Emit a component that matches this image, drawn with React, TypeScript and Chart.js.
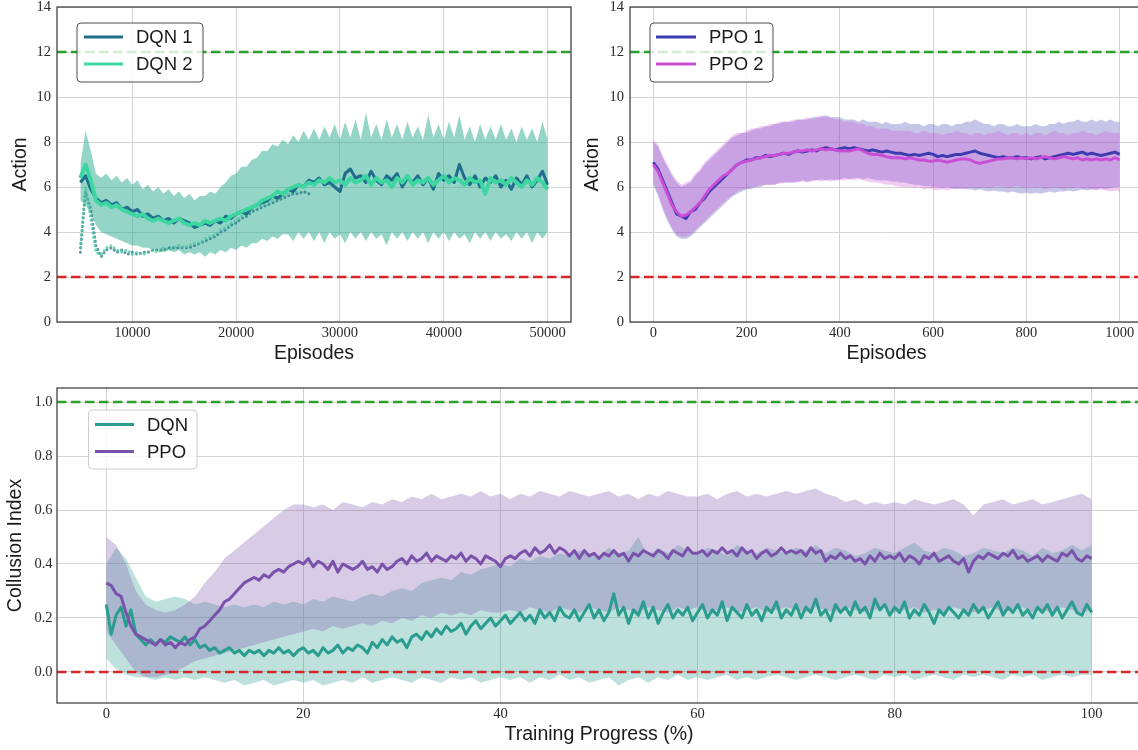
import React, { useEffect, useRef } from "react";
import { Chart, registerables } from "chart.js";

Chart.register(...registerables);

// ---------------- DATA ----------------
// Top-left: DQN actions vs episodes
const DQN_EPISODES = [5000, 5500, 6000, 6500, 7000, 7500, 8000, 8500, 9000, 9500,
  10000, 10500, 11000, 11500, 12000, 12500, 13000, 13500, 14000, 14500,
  15000, 15500, 16000, 16500, 17000, 17500, 18000, 18500, 19000, 19500,
  20000, 20500, 21000, 21500, 22000, 22500, 23000, 23500, 24000, 24500,
  25000, 25500, 26000, 26500, 27000, 27500, 28000, 28500, 29000, 29500,
  30000, 30500, 31000, 31500, 32000, 32500, 33000, 33500, 34000, 34500,
  35000, 35500, 36000, 36500, 37000, 37500, 38000, 38500, 39000, 39500,
  40000, 40500, 41000, 41500, 42000, 42500, 43000, 43500, 44000, 44500,
  45000, 45500, 46000, 46500, 47000, 47500, 48000, 48500, 49000, 49500,
  50000];
const DQN1_ACTION = [6.2, 6.5, 5.9, 5.5, 5.3, 5.4, 5.2, 5.3, 5.0, 5.1,
  4.9, 5.0, 4.7, 4.8, 4.6, 4.7, 4.5, 4.6, 4.4, 4.6,
  4.5, 4.4, 4.2, 4.3, 4.4, 4.3, 4.5, 4.4, 4.7, 4.6,
  4.8, 4.9, 4.8, 5.1, 5.2, 5.3, 5.4, 5.6, 5.5, 5.7,
  5.9, 5.8, 6.1, 6.0, 6.3, 6.2, 6.4, 6.1, 6.2, 6.0,
  5.8, 6.6, 6.8, 6.4, 6.5, 6.2, 6.7, 6.3, 6.1, 6.5,
  6.3, 6.6, 6.0, 6.4, 6.2, 6.5, 6.1, 6.4, 5.9, 6.6,
  6.3, 6.5, 6.2, 7.0, 6.4, 6.1, 6.5, 6.0, 6.4, 6.2,
  6.5, 6.0, 6.3, 5.9, 6.4, 6.1, 6.5, 6.0, 6.3, 6.7,
  6.1];
const DQN2_ACTION = [6.4, 7.0, 6.3, 5.4, 5.2, 5.3, 5.1, 5.2, 5.0, 4.9,
  4.8, 4.7, 4.8, 4.6, 4.5, 4.6, 4.5, 4.4, 4.5, 4.6,
  4.4, 4.3, 4.4, 4.3, 4.5, 4.4, 4.5, 4.6, 4.5, 4.7,
  4.8, 4.9, 5.0, 5.1, 5.2, 5.4, 5.5, 5.6, 5.8, 5.7,
  5.9, 6.0, 6.1, 6.0, 6.2, 6.1, 6.3, 6.2, 6.4, 6.2,
  6.3, 6.1, 6.4, 6.2, 6.3, 6.5, 6.1, 6.4, 6.2, 6.3,
  6.0, 6.4, 6.2, 6.5, 6.1, 6.3, 6.2, 6.4, 6.1, 6.3,
  6.5, 6.2, 6.4, 6.3, 6.1, 6.4, 6.2, 6.3, 5.7, 6.4,
  6.2, 6.3, 6.1, 6.4, 6.2, 6.0, 6.3, 6.1, 6.4, 6.2,
  5.9];
const DQN_BAND_UPPER = [7.0, 8.5, 7.6, 6.6, 6.4, 6.6, 6.3, 6.5, 6.2, 6.4,
  6.1, 6.3, 5.9, 6.1, 5.8, 6.0, 5.7, 5.9, 5.6, 5.8,
  5.5, 5.7, 5.4, 5.6, 5.6, 5.8, 5.7, 6.0, 6.2, 6.5,
  6.6, 6.9, 6.9, 7.2, 7.3, 7.6, 7.6, 7.9, 7.8, 8.1,
  7.9, 8.3, 8.0, 8.5, 8.1, 8.6, 8.1, 8.7, 8.2, 8.8,
  8.1, 8.9, 8.2, 9.0, 8.1, 9.3, 8.2, 8.8, 8.1, 9.0,
  8.2, 8.8, 8.1, 8.9, 8.2, 8.7, 8.1, 9.2, 8.2, 8.8,
  8.1, 8.9, 8.2, 9.2, 8.1, 8.7, 8.0, 8.8, 8.1, 8.7,
  8.1, 8.8, 8.1, 8.6, 8.0, 8.7, 8.1, 8.6, 8.0, 8.9,
  8.1];
const DQN_BAND_LOWER = [5.4, 5.2, 4.8, 4.3, 4.0, 3.9, 3.8, 3.7, 3.6, 3.5,
  3.4, 3.4, 3.3, 3.3, 3.2, 3.2, 3.1, 3.2, 3.1, 3.2,
  3.0, 3.1, 3.0, 3.1, 2.9, 3.1, 3.0, 3.2, 3.1, 3.3,
  3.2, 3.4, 3.3, 3.5, 3.5, 3.7, 3.6, 3.8, 3.7, 3.9,
  3.9, 3.6, 4.0, 3.7, 4.0, 3.6, 4.0, 3.5, 4.0, 3.7,
  3.9, 3.5, 4.0, 3.7, 4.0, 3.6, 4.0, 3.7, 3.9, 3.4,
  4.0, 3.7, 4.0, 3.6, 4.0, 3.7, 4.0, 3.5, 4.0, 3.7,
  4.0, 3.6, 4.0, 3.7, 3.9, 3.5, 4.0, 3.7, 4.0, 3.6,
  4.0, 3.7, 3.9, 3.6, 4.0, 3.7, 4.0, 3.5, 4.0, 3.7,
  4.0];
const DQN1_DOTTED = [3.1, 5.8, 5.0, 3.4, 2.9, 3.2, 3.3, 3.1, 3.2, 3.0,
  3.1, 3.0, 3.1, 3.1, 3.2, 3.2, 3.2, 3.3, 3.3, 3.3,
  3.3, 3.3, 3.4, 3.5, 3.6, 3.7, 3.8, 4.0, 4.1, 4.3,
  4.4, 4.6, 4.7, 4.9, 5.0, 5.1, 5.2, 5.3, 5.4, 5.5,
  5.6, 5.7, 5.7, 5.8, 5.7];
const DQN2_DOTTED = [3.3, 6.0, 4.6, 3.1, 3.0, 3.3, 3.4, 3.2, 3.1, 3.2,
  3.0, 3.1, 3.0, 3.1, 3.2, 3.1, 3.3, 3.2, 3.3, 3.4,
  3.3, 3.4, 3.5, 3.5, 3.7, 3.8, 3.9, 4.1, 4.2, 4.4,
  4.5, 4.7, 4.8, 5.0, 5.1, 5.2, 5.3, 5.4, 5.5, 5.6,
  5.7, 5.8, 5.8];
const DQN_X_TICKS = [10000, 20000, 30000, 40000, 50000];

// Top-right: PPO actions vs episodes
const PPO_EPISODES = [0, 10, 20, 30, 40, 50, 60, 70, 80, 90,
  100, 110, 120, 130, 140, 150, 160, 170, 180, 190,
  200, 210, 220, 230, 240, 250, 260, 270, 280, 290,
  300, 310, 320, 330, 340, 350, 360, 370, 380, 390,
  400, 410, 420, 430, 440, 450, 460, 470, 480, 490,
  500, 510, 520, 530, 540, 550, 560, 570, 580, 590,
  600, 610, 620, 630, 640, 650, 660, 670, 680, 690,
  700, 710, 720, 730, 740, 750, 760, 770, 780, 790,
  800, 810, 820, 830, 840, 850, 860, 870, 880, 890,
  900, 910, 920, 930, 940, 950, 960, 970, 980, 990,
  1000];
const PPO1_ACTION = [7.1, 6.8, 6.3, 5.8, 5.3, 4.8, 4.7, 4.6, 4.9, 5.0,
  5.3, 5.5, 5.8, 6.0, 6.2, 6.4, 6.6, 6.8, 7.0, 7.1,
  7.2, 7.2, 7.3, 7.3, 7.4, 7.35, 7.4, 7.45, 7.5, 7.45,
  7.55, 7.6, 7.55, 7.6, 7.65, 7.6, 7.7, 7.75, 7.7, 7.65,
  7.7, 7.75, 7.7, 7.75, 7.7, 7.65, 7.6, 7.65, 7.6, 7.55,
  7.6, 7.55, 7.5, 7.5, 7.45, 7.4, 7.45, 7.4, 7.45, 7.5,
  7.45, 7.35, 7.4, 7.35, 7.4, 7.45, 7.45, 7.5, 7.55, 7.6,
  7.5, 7.45, 7.4, 7.35, 7.3, 7.35, 7.3, 7.3, 7.35, 7.3,
  7.3, 7.25, 7.3, 7.35, 7.25, 7.3, 7.35, 7.4, 7.45, 7.5,
  7.45, 7.5, 7.55, 7.45, 7.5, 7.45, 7.4, 7.45, 7.5, 7.55,
  7.45];
const PPO2_ACTION = [7.0, 6.7, 6.2, 5.7, 5.2, 4.9, 4.7, 4.75, 4.9, 5.1,
  5.3, 5.6, 5.9, 6.1, 6.3, 6.5, 6.6, 6.8, 7.0, 7.1,
  7.15, 7.2, 7.25, 7.3, 7.35, 7.4, 7.4, 7.45, 7.5, 7.5,
  7.55, 7.6, 7.6, 7.65, 7.6, 7.65, 7.7, 7.65, 7.7, 7.65,
  7.6, 7.6, 7.6, 7.65, 7.7, 7.6, 7.5, 7.45, 7.45, 7.4,
  7.35, 7.3, 7.3, 7.3, 7.25, 7.3, 7.25, 7.2, 7.2, 7.15,
  7.15, 7.2, 7.15, 7.1, 7.15, 7.2, 7.25, 7.25, 7.2, 7.1,
  7.05, 7.1, 7.15, 7.2, 7.25, 7.25, 7.3, 7.3, 7.25, 7.3,
  7.25, 7.3, 7.25, 7.3, 7.35, 7.3, 7.25, 7.3, 7.35, 7.3,
  7.25, 7.3, 7.2, 7.25, 7.2, 7.25, 7.2, 7.25, 7.2, 7.3,
  7.2];
const PPO1_BAND_UPPER = [8.0, 7.8, 7.3, 6.9, 6.5, 6.2, 6.0, 6.1, 6.2, 6.5,
  6.7, 7.0, 7.2, 7.4, 7.6, 7.8, 8.0, 8.2, 8.3, 8.4,
  8.4, 8.5, 8.6, 8.6, 8.7, 8.7, 8.8, 8.8, 8.9, 8.9,
  8.9, 9.0, 9.0, 9.0, 9.1, 9.1, 9.1, 9.2, 9.1, 9.1,
  9.1, 9.0, 9.0, 9.0, 8.9, 9.0, 8.9, 8.9, 8.9, 8.8,
  8.9, 8.8, 8.8, 8.8, 8.9, 8.8, 8.8, 8.8, 8.7, 8.8,
  8.8, 8.7, 8.8, 8.8, 8.7, 8.8, 8.8, 8.9, 8.9, 9.0,
  8.9, 8.8, 8.8, 8.7, 8.8, 8.8, 8.7, 8.7, 8.8, 8.7,
  8.7, 8.7, 8.8, 8.7, 8.7, 8.8, 8.8, 8.9, 8.8, 8.9,
  8.9, 9.0, 8.9, 8.9, 9.0, 8.9, 9.0, 8.9, 9.0, 8.9,
  8.9];
const PPO1_BAND_LOWER = [6.1, 5.6, 5.0, 4.5, 4.1, 3.8, 3.7, 3.7, 3.8, 4.0,
  4.2, 4.4, 4.6, 4.8, 5.0, 5.2, 5.4, 5.6, 5.7, 5.8,
  5.9, 5.9, 6.0, 6.0, 6.1, 6.1, 6.1, 6.2, 6.2, 6.2,
  6.2, 6.25, 6.3, 6.25, 6.3, 6.3, 6.35, 6.3, 6.35, 6.3,
  6.35, 6.4, 6.35, 6.4, 6.4, 6.35, 6.4, 6.35, 6.3, 6.3,
  6.3, 6.25, 6.25, 6.2, 6.2, 6.15, 6.1, 6.1, 6.05, 6.05,
  6.0, 6.0, 5.95, 6.0, 5.95, 5.9, 5.95, 5.9, 5.9, 5.85,
  5.9, 5.85, 5.8, 5.85, 5.8, 5.8, 5.75, 5.8, 5.75, 5.7,
  5.75, 5.7, 5.75, 5.7, 5.75, 5.8, 5.75, 5.8, 5.8, 5.85,
  5.8, 5.85, 5.9, 5.85, 5.9, 5.9, 5.95, 5.9, 5.95, 6.0,
  6.0];
const PPO2_BAND_UPPER = [8.1, 7.9, 7.4, 7.0, 6.6, 6.3, 6.1, 6.2, 6.3, 6.6,
  6.8, 7.1, 7.3, 7.5, 7.7, 7.9, 8.1, 8.3, 8.4, 8.4,
  8.5, 8.6, 8.6, 8.7, 8.7, 8.8, 8.8, 8.9, 8.9, 8.9,
  9.0, 9.0, 9.0, 9.1, 9.0, 9.1, 9.2, 9.1, 9.1, 9.0,
  9.0, 8.9, 8.9, 8.9, 8.8, 8.8, 8.7, 8.7, 8.6, 8.6,
  8.6, 8.5, 8.5, 8.5, 8.5, 8.5, 8.4, 8.4, 8.5, 8.4,
  8.4, 8.4, 8.3, 8.4, 8.4, 8.5, 8.4, 8.4, 8.3, 8.4,
  8.4, 8.3, 8.4, 8.4, 8.5, 8.4, 8.3, 8.4, 8.4, 8.3,
  8.4, 8.3, 8.4, 8.4, 8.3, 8.4, 8.5, 8.4, 8.4, 8.3,
  8.4, 8.4, 8.5, 8.4, 8.4, 8.3, 8.4, 8.5, 8.4, 8.4,
  8.4];
const PPO2_BAND_LOWER = [6.2, 5.7, 5.1, 4.6, 4.2, 3.9, 3.8, 3.8, 3.9, 4.1,
  4.3, 4.5, 4.7, 4.9, 5.1, 5.3, 5.5, 5.6, 5.8, 5.9,
  5.9, 6.0, 6.0, 6.1, 6.1, 6.1, 6.1, 6.15, 6.2, 6.2,
  6.2, 6.2, 6.25, 6.2, 6.25, 6.3, 6.25, 6.3, 6.25, 6.3,
  6.3, 6.3, 6.35, 6.3, 6.35, 6.3, 6.25, 6.2, 6.2, 6.15,
  6.1, 6.1, 6.05, 6.0, 6.0, 6.0, 5.95, 6.0, 5.9, 5.95,
  5.9, 5.85, 5.9, 5.85, 5.9, 5.95, 5.9, 5.95, 6.0, 5.95,
  5.95, 6.0, 5.95, 6.0, 6.05, 6.0, 5.95, 6.0, 6.05, 6.0,
  5.95, 6.0, 5.95, 6.0, 5.9, 5.95, 6.0, 5.95, 5.9, 5.95,
  5.95, 6.0, 5.9, 5.95, 5.9, 5.85, 5.9, 5.85, 5.8, 5.85,
  5.8];
const PPO_X_TICKS = [0, 200, 400, 600, 800, 1000];
const ACTION_Y_TICKS = [0, 2, 4, 6, 8, 10, 12, 14];
const ACTION_REF_LINES = [12, 2]; // monopoly, Nash

// Bottom: collusion index vs training progress
const PROGRESS_FINE = [0, 0.5, 1, 1.5, 2, 2.5, 3, 3.5, 4, 4.5,
  5, 5.5, 6, 6.5, 7, 7.5, 8, 8.5, 9, 9.5,
  10, 10.5, 11, 11.5, 12, 12.5, 13, 13.5, 14, 14.5,
  15, 15.5, 16, 16.5, 17, 17.5, 18, 18.5, 19, 19.5,
  20, 20.5, 21, 21.5, 22, 22.5, 23, 23.5, 24, 24.5,
  25, 25.5, 26, 26.5, 27, 27.5, 28, 28.5, 29, 29.5,
  30, 30.5, 31, 31.5, 32, 32.5, 33, 33.5, 34, 34.5,
  35, 35.5, 36, 36.5, 37, 37.5, 38, 38.5, 39, 39.5,
  40, 40.5, 41, 41.5, 42, 42.5, 43, 43.5, 44, 44.5,
  45, 45.5, 46, 46.5, 47, 47.5, 48, 48.5, 49, 49.5,
  50, 50.5, 51, 51.5, 52, 52.5, 53, 53.5, 54, 54.5,
  55, 55.5, 56, 56.5, 57, 57.5, 58, 58.5, 59, 59.5,
  60, 60.5, 61, 61.5, 62, 62.5, 63, 63.5, 64, 64.5,
  65, 65.5, 66, 66.5, 67, 67.5, 68, 68.5, 69, 69.5,
  70, 70.5, 71, 71.5, 72, 72.5, 73, 73.5, 74, 74.5,
  75, 75.5, 76, 76.5, 77, 77.5, 78, 78.5, 79, 79.5,
  80, 80.5, 81, 81.5, 82, 82.5, 83, 83.5, 84, 84.5,
  85, 85.5, 86, 86.5, 87, 87.5, 88, 88.5, 89, 89.5,
  90, 90.5, 91, 91.5, 92, 92.5, 93, 93.5, 94, 94.5,
  95, 95.5, 96, 96.5, 97, 97.5, 98, 98.5, 99, 99.5,
  100];
const DQN_CI = [0.25, 0.14, 0.21, 0.24, 0.17, 0.23, 0.14, 0.12, 0.10, 0.12,
  0.10, 0.12, 0.11, 0.13, 0.12, 0.11, 0.13, 0.10, 0.12, 0.09,
  0.10, 0.08, 0.09, 0.07, 0.08, 0.09, 0.07, 0.08, 0.06, 0.08,
  0.07, 0.08, 0.06, 0.08, 0.07, 0.09, 0.07, 0.08, 0.06, 0.08,
  0.09, 0.07, 0.08, 0.06, 0.09, 0.07, 0.08, 0.10, 0.07, 0.09,
  0.08, 0.10, 0.09, 0.07, 0.11, 0.09, 0.12, 0.10, 0.13, 0.11,
  0.12, 0.09, 0.13, 0.14, 0.12, 0.15, 0.13, 0.16, 0.14, 0.17,
  0.15, 0.16, 0.18, 0.14, 0.17, 0.19, 0.16, 0.18, 0.20, 0.17,
  0.19, 0.21, 0.18, 0.20, 0.22, 0.19, 0.21, 0.18, 0.23, 0.20,
  0.22, 0.19, 0.24, 0.21, 0.20, 0.23, 0.19, 0.22, 0.25, 0.20,
  0.23, 0.19, 0.22, 0.29, 0.21, 0.24, 0.18, 0.23, 0.21, 0.26,
  0.20, 0.24, 0.18, 0.22, 0.25, 0.20, 0.23, 0.21, 0.24, 0.19,
  0.22, 0.25, 0.20, 0.23, 0.21, 0.26, 0.19, 0.24, 0.22, 0.20,
  0.25, 0.21, 0.23, 0.19, 0.24, 0.22, 0.26, 0.20, 0.23, 0.21,
  0.25, 0.20, 0.24, 0.22, 0.27, 0.21, 0.23, 0.19, 0.25, 0.22,
  0.24, 0.21, 0.26, 0.22, 0.24, 0.20, 0.27, 0.23, 0.25, 0.21,
  0.24, 0.22, 0.26, 0.20, 0.23, 0.21, 0.25, 0.22, 0.18, 0.23,
  0.21, 0.24, 0.22, 0.20, 0.23, 0.21, 0.25, 0.22, 0.24, 0.20,
  0.23, 0.26, 0.21, 0.24, 0.22, 0.25, 0.21, 0.23, 0.20, 0.24,
  0.22, 0.25, 0.21, 0.24, 0.20, 0.23, 0.26, 0.22, 0.21, 0.25,
  0.22];
const PPO_CI = [0.33, 0.32, 0.29, 0.28, 0.22, 0.17, 0.14, 0.13, 0.12, 0.11,
  0.10, 0.12, 0.10, 0.11, 0.09, 0.11, 0.10, 0.12, 0.13, 0.16,
  0.17, 0.19, 0.21, 0.23, 0.26, 0.27, 0.29, 0.31, 0.33, 0.34,
  0.35, 0.34, 0.36, 0.35, 0.37, 0.38, 0.37, 0.39, 0.40, 0.41,
  0.40, 0.42, 0.39, 0.41, 0.40, 0.38, 0.41, 0.37, 0.40, 0.39,
  0.38, 0.39, 0.41, 0.38, 0.39, 0.37, 0.40, 0.38, 0.39, 0.41,
  0.42, 0.40, 0.43, 0.41, 0.42, 0.44, 0.41, 0.43, 0.42, 0.41,
  0.43, 0.42, 0.44, 0.41, 0.43, 0.42, 0.40, 0.43, 0.42, 0.41,
  0.39, 0.42, 0.43, 0.42, 0.44, 0.45, 0.43, 0.46, 0.44, 0.45,
  0.47, 0.44, 0.46, 0.45, 0.43, 0.45, 0.42, 0.45, 0.43, 0.44,
  0.42, 0.44, 0.43, 0.45, 0.43, 0.44, 0.41, 0.44, 0.43, 0.45,
  0.44, 0.43, 0.45, 0.44, 0.42, 0.45, 0.44, 0.43, 0.46, 0.44,
  0.44, 0.45, 0.43, 0.45, 0.44, 0.46, 0.44, 0.45, 0.43, 0.46,
  0.44, 0.45, 0.42, 0.44, 0.45, 0.43, 0.44, 0.46, 0.44, 0.45,
  0.44, 0.45, 0.43, 0.46, 0.44, 0.45, 0.41, 0.43, 0.42, 0.44,
  0.42, 0.43, 0.41, 0.42, 0.40, 0.43, 0.41, 0.44, 0.42, 0.43,
  0.42, 0.44, 0.41, 0.43, 0.42, 0.40, 0.43, 0.42, 0.44, 0.41,
  0.42, 0.43, 0.41, 0.40, 0.42, 0.37, 0.41, 0.43, 0.42, 0.44,
  0.43, 0.42, 0.44, 0.43, 0.45, 0.42, 0.43, 0.41, 0.42, 0.43,
  0.41, 0.43, 0.42, 0.41, 0.44, 0.43, 0.45, 0.42, 0.41, 0.43,
  0.42];
const PROGRESS = [0, 1, 2, 3, 4, 5, 6, 7, 8, 9,
  10, 11, 12, 13, 14, 15, 16, 17, 18, 19,
  20, 21, 22, 23, 24, 25, 26, 27, 28, 29,
  30, 31, 32, 33, 34, 35, 36, 37, 38, 39,
  40, 41, 42, 43, 44, 45, 46, 47, 48, 49,
  50, 51, 52, 53, 54, 55, 56, 57, 58, 59,
  60, 61, 62, 63, 64, 65, 66, 67, 68, 69,
  70, 71, 72, 73, 74, 75, 76, 77, 78, 79,
  80, 81, 82, 83, 84, 85, 86, 87, 88, 89,
  90, 91, 92, 93, 94, 95, 96, 97, 98, 99,
  100];
const DQN_CI_UPPER = [0.40, 0.46, 0.42, 0.35, 0.28, 0.26, 0.27, 0.28, 0.27, 0.25,
  0.26, 0.25, 0.24, 0.25, 0.24, 0.25, 0.24, 0.26, 0.25, 0.26,
  0.25, 0.27, 0.26, 0.28, 0.27, 0.26, 0.28, 0.29, 0.28, 0.30,
  0.31, 0.30, 0.33, 0.34, 0.35, 0.34, 0.37, 0.36, 0.38, 0.39,
  0.40, 0.39, 0.42, 0.41, 0.43, 0.42, 0.44, 0.43, 0.45, 0.44,
  0.43, 0.46, 0.44, 0.45, 0.50, 0.43, 0.46, 0.44, 0.47, 0.45,
  0.44, 0.46, 0.45, 0.43, 0.47, 0.45, 0.44, 0.46, 0.45, 0.44,
  0.46, 0.45, 0.47, 0.44, 0.46, 0.45, 0.43, 0.44, 0.46, 0.45,
  0.44, 0.46, 0.48, 0.45, 0.44, 0.46, 0.45, 0.43, 0.44, 0.46,
  0.45, 0.44, 0.46, 0.45, 0.43, 0.46, 0.44, 0.45, 0.47, 0.45,
  0.47];
const DQN_CI_LOWER = [0.05, 0.01, -0.01, -0.02, -0.02, -0.03, -0.02, -0.03, -0.02, -0.03,
  -0.02, -0.03, -0.04, -0.03, -0.05, -0.04, -0.03, -0.05, -0.04, -0.03,
  -0.04, -0.03, -0.05, -0.04, -0.03, -0.04, -0.02, -0.04, -0.03, -0.02,
  -0.03, -0.04, -0.02, -0.03, -0.04, -0.02, -0.03, -0.02, -0.04, -0.03,
  -0.02, -0.03, -0.02, -0.04, -0.02, -0.03, -0.01, -0.03, -0.02, -0.04,
  -0.03, -0.02, -0.05, -0.03, -0.02, -0.04, -0.02, -0.03, -0.01, -0.03,
  -0.02, -0.03, -0.02, -0.01, -0.03, -0.02, -0.03, -0.02, -0.01, -0.02,
  -0.03, -0.02, -0.01, -0.02, -0.03, -0.02, -0.01, -0.02, -0.03, -0.01,
  -0.02, -0.01, -0.03, -0.02, -0.01, -0.02, -0.03, -0.01, -0.02, -0.01,
  -0.02, -0.03, -0.01, -0.02, -0.01, -0.03, -0.02, -0.01, -0.02, -0.01,
  -0.01];
const PPO_CI_UPPER = [0.50, 0.47, 0.40, 0.30, 0.25, 0.23, 0.22, 0.23, 0.25, 0.28,
  0.33, 0.37, 0.42, 0.45, 0.48, 0.51, 0.54, 0.57, 0.60, 0.62,
  0.62, 0.61, 0.62, 0.60, 0.63, 0.62, 0.61, 0.63, 0.62, 0.64,
  0.63, 0.65, 0.64, 0.66, 0.64, 0.65, 0.66, 0.65, 0.67, 0.65,
  0.66, 0.64, 0.66, 0.65, 0.67, 0.66, 0.65, 0.67, 0.66, 0.65,
  0.66, 0.67, 0.65, 0.66, 0.64, 0.66, 0.65, 0.67, 0.66, 0.65,
  0.65, 0.66, 0.64, 0.66, 0.67, 0.65, 0.66, 0.65, 0.66, 0.67,
  0.66, 0.67, 0.68, 0.66, 0.65, 0.63, 0.64, 0.62, 0.63, 0.62,
  0.63, 0.62, 0.64, 0.63, 0.62, 0.63, 0.64, 0.62, 0.58, 0.62,
  0.63, 0.64, 0.62, 0.63, 0.64, 0.62, 0.63, 0.64, 0.65, 0.66,
  0.64];
const PPO_CI_LOWER = [0.15, 0.10, 0.05, 0.00, -0.02, -0.02, -0.01, 0.00, 0.02, 0.04,
  0.05, 0.06, 0.07, 0.08, 0.09, 0.10, 0.11, 0.12, 0.13, 0.14,
  0.15, 0.16, 0.15, 0.17, 0.16, 0.17, 0.18, 0.17, 0.19, 0.18,
  0.20, 0.19, 0.21, 0.20, 0.22, 0.21, 0.22, 0.21, 0.23, 0.22,
  0.22, 0.23, 0.22, 0.24, 0.23, 0.22, 0.24, 0.23, 0.22, 0.24,
  0.23, 0.22, 0.24, 0.23, 0.22, 0.24, 0.23, 0.22, 0.24, 0.23,
  0.24, 0.22, 0.23, 0.24, 0.22, 0.23, 0.24, 0.22, 0.23, 0.24,
  0.23, 0.22, 0.24, 0.23, 0.22, 0.24, 0.23, 0.22, 0.23, 0.24,
  0.22, 0.23, 0.24, 0.22, 0.23, 0.22, 0.24, 0.23, 0.22, 0.23,
  0.24, 0.22, 0.23, 0.24, 0.22, 0.23, 0.22, 0.24, 0.23, 0.22,
  0.23];
const PROGRESS_X_TICKS = [0, 20, 40, 60, 80, 100];
const CI_Y_TICKS = [0.0, 0.2, 0.4, 0.6, 0.8, 1.0];
const CI_REF_LINES = [1.0, 0.0];

// ---------------- STYLE ----------------
const GREEN = "#2ca02c";
const RED = "#d62728";
const GRID = "#d4d4d4";
const SPINE = "#444444";
const TICK_COLOR = "#2a2a2a";
const TITLE_COLOR = "#1a1a1a";
const TICK_FONT = { family: "'Liberation Serif', 'Times New Roman', serif", size: 14.5 };
const TITLE_FONT = { family: "'Liberation Sans', Arial, sans-serif", size: 19.5 };
const LEGEND_FONT = "18.5px 'Liberation Sans', Arial, sans-serif";

const C_DQN1 = "#1f6e8c";
const C_DQN2 = "#3dd6a0";
const C_PPO1 = "#3c3cae";
const C_PPO2 = "#c94ed5";
const C_DQN = "#2a9d8f";
const C_PPO = "#7b52ab";

// ---------------- PLUGINS ----------------
const refLinesPlugin = {
  id: "refLines",
  afterDatasetsDraw(chart: any, _a: any, opts: any) {
    if (!opts || !opts.lines) return;
    const { ctx, chartArea: ca, scales } = chart;
    ctx.save();
    ctx.beginPath();
    ctx.rect(ca.left, ca.top, ca.right - ca.left, ca.bottom - ca.top);
    ctx.clip();
    for (const l of opts.lines) {
      const y = scales.y.getPixelForValue(l.value);
      ctx.strokeStyle = l.color;
      ctx.lineWidth = 2.6;
      ctx.setLineDash([9.5, 4.5]);
      ctx.beginPath();
      ctx.moveTo(ca.left, y);
      ctx.lineTo(ca.right, y);
      ctx.stroke();
    }
    ctx.restore();
  },
};

const framePlugin = {
  id: "frame",
  afterDatasetsDraw(chart: any) {
    const { ctx, chartArea: ca } = chart;
    ctx.save();
    ctx.strokeStyle = SPINE;
    ctx.lineWidth = 1.3;
    ctx.strokeRect(ca.left, ca.top, ca.right - ca.left, ca.bottom - ca.top);
    ctx.restore();
  },
};

const boxLegendPlugin = {
  id: "boxLegend",
  afterDraw(chart: any, _a: any, opts: any) {
    if (!opts || !opts.labels) return;
    const { ctx } = chart;
    const { x, y, w, h, rows, lineX0, lineX1, textX, border } = opts;
    const items = opts.labels
      .map((lab: string) => chart.data.datasets.find((d: any) => d.label === lab))
      .filter(Boolean);
    ctx.save();
    const r = 4;
    ctx.beginPath();
    ctx.moveTo(x + r, y);
    ctx.lineTo(x + w - r, y);
    ctx.arcTo(x + w, y, x + w, y + r, r);
    ctx.lineTo(x + w, y + h - r);
    ctx.arcTo(x + w, y + h, x + w - r, y + h, r);
    ctx.lineTo(x + r, y + h);
    ctx.arcTo(x, y + h, x, y + h - r, r);
    ctx.lineTo(x, y + r);
    ctx.arcTo(x, y, x + r, y, r);
    ctx.closePath();
    ctx.fillStyle = "rgba(255,255,255,0.8)";
    ctx.fill();
    ctx.strokeStyle = border;
    ctx.lineWidth = 1;
    ctx.stroke();
    items.forEach((ds: any, i: number) => {
      const cy = rows[i];
      ctx.strokeStyle = ds.borderColor;
      ctx.lineWidth = 3;
      ctx.setLineDash([]);
      ctx.beginPath();
      ctx.moveTo(lineX0, cy);
      ctx.lineTo(lineX1, cy);
      ctx.stroke();
      ctx.fillStyle = "#1a1a1a";
      ctx.font = LEGEND_FONT;
      ctx.textBaseline = "middle";
      ctx.textAlign = "left";
      ctx.fillText(ds.label, textX, cy + 1);
    });
    ctx.restore();
  },
};

// ---------------- HELPERS ----------------
const pts = (xs: number[], ys: number[]) => ys.map((y, i) => ({ x: xs[i], y }));

function lineDs(label: string, xs: number[], ys: number[], color: string, width: number, order: number, extra: any = {}) {
  return {
    label,
    data: pts(xs, ys),
    borderColor: color,
    backgroundColor: color,
    borderWidth: width,
    pointRadius: 0,
    fill: false,
    tension: 0,
    borderJoinStyle: "round",
    order,
    ...extra,
  };
}

function bandDs(name: string, xs: number[], lower: number[], upper: number[], color: string, order: number) {
  return [
    { label: name + "_lo", data: pts(xs, lower), borderColor: "rgba(0,0,0,0)", borderWidth: 0, pointRadius: 0, fill: false, order },
    { label: name + "_hi", data: pts(xs, upper), borderColor: "rgba(0,0,0,0)", borderWidth: 0, pointRadius: 0, fill: "-1", backgroundColor: color, order },
  ];
}

function xAxis(min: number, max: number, ticks: number[], title: string, height: number, titlePad: number) {
  return {
    type: "linear",
    min,
    max,
    afterBuildTicks: (s: any) => {
      s.ticks = ticks.map((v) => ({ value: v }));
    },
    afterFit: (s: any) => {
      s.height = height;
      s.paddingLeft = 0;
      s.paddingRight = 0;
    },
    grid: { color: GRID, lineWidth: 1, drawTicks: false },
    border: { display: false },
    ticks: { font: TICK_FONT, color: TICK_COLOR, padding: 2, autoSkip: false, maxRotation: 0, callback: (v: any) => String(v) },
    title: { display: true, text: title, font: TITLE_FONT, color: TITLE_COLOR, padding: { top: 0, bottom: titlePad } },
  };
}

function yAxis(min: number, max: number, ticks: number[], title: string, width: number, titlePad: number, tickPad: number, fmt: (v: number) => string) {
  return {
    type: "linear",
    min,
    max,
    afterBuildTicks: (s: any) => {
      s.ticks = ticks.map((v) => ({ value: v }));
    },
    afterFit: (s: any) => {
      s.width = width;
      s.paddingTop = 0;
      s.paddingBottom = 0;
    },
    grid: { color: GRID, lineWidth: 1, drawTicks: false },
    border: { display: false },
    ticks: { font: TICK_FONT, color: TICK_COLOR, padding: tickPad, autoSkip: false, callback: (v: any) => fmt(Number(v)) },
    title: { display: true, text: title, font: TITLE_FONT, color: TITLE_COLOR, padding: { top: titlePad, bottom: 0 } },
  };
}

function baseOptions(padding: any, scales: any, plugins: any) {
  return {
    responsive: false,
    animation: false,
    devicePixelRatio: 1,
    events: [],
    layout: { padding },
    scales,
    plugins: {
      legend: { display: false },
      tooltip: { enabled: false },
      filler: { drawTime: "beforeDatasetDraw" },
      ...plugins,
    },
  };
}

// ---------------- CHART CONFIGS ----------------
function dqnConfig(): any {
  return {
    type: "line",
    data: {
      datasets: [
        ...bandDs("dqnband", DQN_EPISODES, DQN_BAND_LOWER, DQN_BAND_UPPER, "rgba(41,171,145,0.5)", 10),
        lineDs("DQN 1 (alt)", DQN_EPISODES, DQN1_DOTTED, "rgba(40,118,140,0.75)", 3, 6, { borderDash: [0.1, 4.2], borderCapStyle: "round" }),
        lineDs("DQN 2 (alt)", DQN_EPISODES, DQN2_DOTTED, "rgba(75,200,160,0.75)", 3, 5, { borderDash: [0.1, 4.2], borderCapStyle: "round" }),
        lineDs("DQN 1", DQN_EPISODES, DQN1_ACTION, C_DQN1, 3, 2),
        lineDs("DQN 2", DQN_EPISODES, DQN2_ACTION, C_DQN2, 4, 1),
      ],
    },
    options: baseOptions(
      { left: 0, top: 7, right: 9, bottom: 0 },
      {
        x: xAxis(2750, 52250, DQN_X_TICKS, "Episodes", 50, 7),
        y: yAxis(0, 14, ACTION_Y_TICKS, "Action", 57, 9, 6, (v) => String(v)),
      },
      {
        refLines: { lines: [{ value: ACTION_REF_LINES[0], color: GREEN }, { value: ACTION_REF_LINES[1], color: RED }] },
        boxLegend: { labels: ["DQN 1", "DQN 2"], x: 77, y: 23, w: 126, h: 59, rows: [37, 64], lineX0: 84, lineX1: 123, textX: 136, border: "#4d4d4d" },
      }
    ),
    plugins: [refLinesPlugin, framePlugin, boxLegendPlugin],
  };
}

function ppoConfig(): any {
  return {
    type: "line",
    data: {
      datasets: [
        ...bandDs("ppo1band", PPO_EPISODES, PPO1_BAND_LOWER, PPO1_BAND_UPPER, "rgba(63,63,176,0.3)", 11),
        ...bandDs("ppo2band", PPO_EPISODES, PPO2_BAND_LOWER, PPO2_BAND_UPPER, "rgba(204,79,214,0.3)", 10),
        lineDs("PPO 1", PPO_EPISODES, PPO1_ACTION, C_PPO1, 3, 2),
        lineDs("PPO 2", PPO_EPISODES, PPO2_ACTION, C_PPO2, 3, 1),
      ],
    },
    options: baseOptions(
      { left: 0, top: 7, right: 7, bottom: 0 },
      {
        x: xAxis(-50, 1050, PPO_X_TICKS, "Episodes", 50, 7),
        y: yAxis(0, 14, ACTION_Y_TICKS, "Action", 55, 6, 6, (v) => String(v)),
      },
      {
        refLines: { lines: [{ value: ACTION_REF_LINES[0], color: GREEN }, { value: ACTION_REF_LINES[1], color: RED }] },
        boxLegend: { labels: ["PPO 1", "PPO 2"], x: 75, y: 23, w: 123, h: 59, rows: [37, 64], lineX0: 81, lineX1: 121, textX: 134, border: "#4d4d4d" },
      }
    ),
    plugins: [refLinesPlugin, framePlugin, boxLegendPlugin],
  };
}

function ciConfig(): any {
  return {
    type: "line",
    data: {
      datasets: [
        ...bandDs("dqnci", PROGRESS, DQN_CI_LOWER, DQN_CI_UPPER, "rgba(42,157,143,0.3)", 11),
        ...bandDs("ppoci", PROGRESS, PPO_CI_LOWER, PPO_CI_UPPER, "rgba(123,82,171,0.3)", 10),
        lineDs("DQN", PROGRESS_FINE, DQN_CI, C_DQN, 3, 2),
        lineDs("PPO", PROGRESS_FINE, PPO_CI, C_PPO, 3, 1),
      ],
    },
    options: baseOptions(
      { left: 0, top: 8, right: 9, bottom: 0 },
      {
        x: xAxis(-5, 105, PROGRESS_X_TICKS, "Training Progress (%)", 47, 3.4),
        y: yAxis(-0.115, 1.052, CI_Y_TICKS, "Collusion Index", 57, 4, 4.5, (v) => v.toFixed(1)),
      },
      {
        refLines: { lines: [{ value: CI_REF_LINES[0], color: GREEN }, { value: CI_REF_LINES[1], color: RED }] },
        boxLegend: { labels: ["DQN", "PPO"], x: 88.5, y: 30, w: 108.5, h: 59, rows: [44.5, 71.5], lineX0: 95, lineX1: 134, textX: 147, border: "#cccccc" },
      }
    ),
    plugins: [refLinesPlugin, framePlugin, boxLegendPlugin],
  };
}

// ---------------- COMPONENTS ----------------
function ChartCanvas({ make, left, top, width, height }: { make: () => any; left: number; top: number; width: number; height: number }) {
  const ref = useRef<HTMLCanvasElement | null>(null);
  useEffect(() => {
    if (!ref.current) return;
    const chart = new Chart(ref.current, make());
    return () => chart.destroy();
  }, [make]);
  return (
    <div style={{ position: "absolute", left, top, width, height }}>
      <canvas ref={ref} width={width} height={height} style={{ display: "block", width, height }} />
    </div>
  );
}

export default function App() {
  return (
    <div style={{ position: "relative", width: 1138, height: 750, overflow: "hidden", background: "#ffffff" }}>
      <style>{"html,body{margin:0;padding:0;overflow:hidden;background:#fff}"}</style>
      <ChartCanvas make={dqnConfig} left={0} top={0} width={580} height={372} />
      <ChartCanvas make={ppoConfig} left={575} top={0} width={575} height={372} />
      <ChartCanvas make={ciConfig} left={0} top={380} width={1150} height={370} />
    </div>
  );
}
